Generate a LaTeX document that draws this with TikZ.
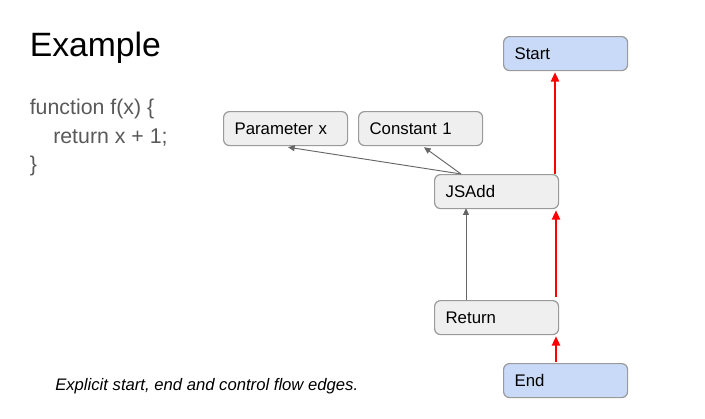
\documentclass[tikz,border=0pt]{standalone}
\usepackage{fontspec}
\setmainfont{Liberation Sans}
\usetikzlibrary{calc,arrows.meta}
\definecolor{boxgray}{HTML}{EFEFEF}
\definecolor{boxblue}{HTML}{C9DAF8}
\definecolor{edgegray}{HTML}{9A9A9A}
\definecolor{codegray}{HTML}{595959}
\definecolor{arrowgray}{HTML}{666666}
\tikzset{
  nodebox/.style={draw=edgegray, line width=0.9pt, rounded corners=4.5pt,
    fill=boxgray, minimum height=25.5pt, text width=76.5pt, inner xsep=8.25pt,
    align=left, font=\fontsize{12.6}{14}\selectfont, anchor=north west},
  bluebox/.style={nodebox, fill=boxblue},
  dataedge/.style={draw=arrowgray, line width=0.7pt, -{Triangle[length=5pt,width=4.5pt]}},
  ctrledge/.style={draw=red, line width=1.6pt, -{Triangle[length=7pt,width=6pt]}}
}
\begin{document}
\begin{tikzpicture}[x=0.75pt,y=-0.75pt]
\useasboundingbox (0,0) rectangle (705,418);
% title and code
\node[anchor=base west, inner sep=0pt, font=\fontsize{25.3}{30}\selectfont] (title) at (29.5,56) {Example};
\node[anchor=base west, inner sep=0pt, text=codegray, font=\fontsize{16}{19}\selectfont] (l1) at (29.5,114) {function f(x) \{};
\node[anchor=base west, inner sep=0pt, text=codegray, font=\fontsize{16}{19}\selectfont] (l2) at (53,143) {return x + 1;};
\node[anchor=base west, inner sep=0pt, text=codegray, font=\fontsize{16}{19}\selectfont] (l3) at (29.5,171) {\}};
\node[anchor=base west, inner sep=0pt, font=\fontsize{12.5}{15}\selectfont\itshape] (cap) at (55,390) {Explicit start, end and control flow edges.};
% nodes
\node[bluebox] (start) at (503,36) {Start};
\node[nodebox] (param) at (223,111) {Parameter x};
\node[nodebox] (const) at (358,111) {Constant 1};
\node[nodebox] (jsadd) at (434,174) {JSAdd};
\node[nodebox] (ret) at (434,300) {Return};
\node[bluebox] (end) at (503,363) {End};
% anchor points
\coordinate (jaTop) at ($(jsadd.north west)+(27,0)$);
\coordinate (paBot) at ($(param.south west)+(65,1)$);
\coordinate (coBot) at ($(const.south west)+(66,1)$);
\coordinate (retTopL) at ($(ret.north west)+(32,0)$);
\coordinate (jaBotL) at ($(jsadd.south west)+(32,-1)$);
\coordinate (jaTopR) at ($(jsadd.north west)+(121,0)$);
\coordinate (stBot) at ($(start.south west)+(52,1)$);
\coordinate (retTopR) at ($(ret.north west)+(122,-3)$);
\coordinate (jaBotR) at ($(jsadd.south west)+(122,1)$);
\coordinate (endTop) at ($(end.north west)+(53,-1)$);
\coordinate (retBotR) at ($(ret.south west)+(122,1)$);
% edges
\draw[dataedge] (jaTop) -- (paBot);
\draw[dataedge] (jaTop) -- (coBot);
\draw[dataedge] (retTopL) -- (jaBotL);
\draw[ctrledge] (jaTopR) -- (stBot);
\draw[ctrledge] (retTopR) -- (jaBotR);
\draw[ctrledge] (endTop) -- (retBotR);
\end{tikzpicture}
\end{document}
